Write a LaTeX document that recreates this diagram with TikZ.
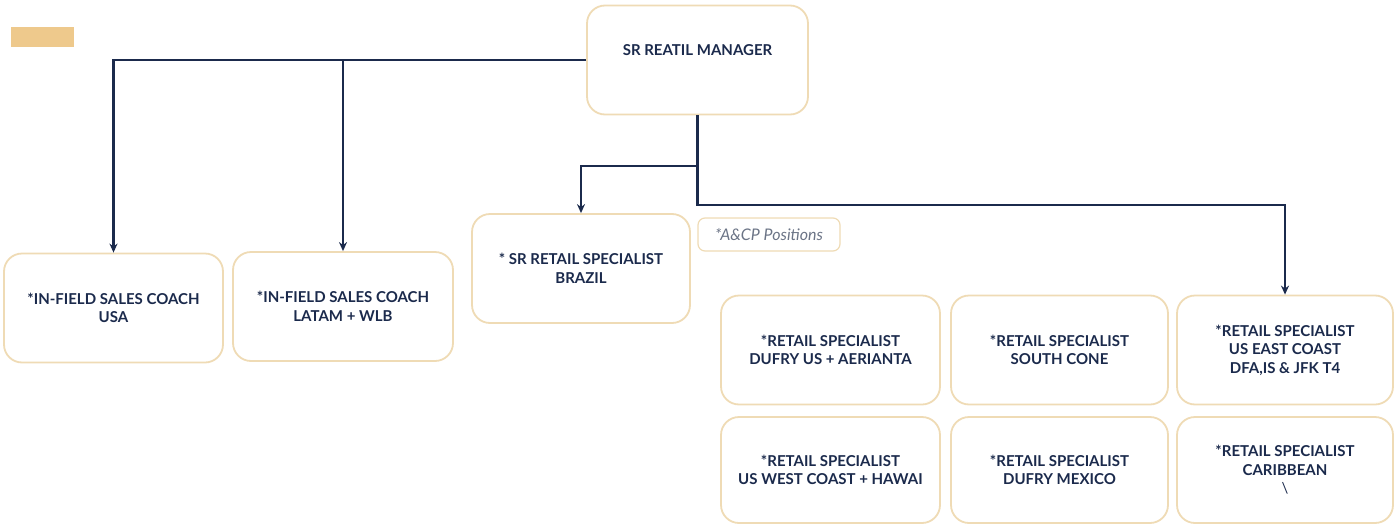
\documentclass[tikz,border=0pt]{standalone}
\usepackage{fontspec}
\setmainfont{Lato}
\usetikzlibrary{arrows.meta}
\definecolor{navy}{HTML}{1B2A4C}
\definecolor{sand}{HTML}{EFDBB5}
\definecolor{tan}{HTML}{EEC98C}
\definecolor{note}{HTML}{6B7486}
\begin{document}
\begin{tikzpicture}[x=1pt,y=-1pt,
  every node/.style={draw=sand,line width=1.8pt,rounded corners=18pt,fill=white,
    text=navy,font=\bfseries\fontsize{15}{18.5}\selectfont,align=center,inner sep=0pt},
  role/.style={minimum width=218pt,minimum height=109pt},
  link/.style={draw=navy,line width=2.2pt,-{Stealth[length=9pt,width=8pt]}}]
\useasboundingbox (0,0) rectangle (1395,525);
\node[draw=none,fill=tan,rounded corners=0pt,minimum width=63pt,minimum height=20pt] (legend) at (42.5,37) {};
\node[role,minimum width=221pt,text depth=20pt] (mgr) at (697.5,60) {SR REATIL MANAGER};
\node[role,minimum width=219pt] (usa) at (113.5,308) {*IN-FIELD SALES COACH\\USA};
\node[role,minimum width=220pt] (latam) at (343,306.5) {*IN-FIELD SALES COACH\\LATAM + WLB};
\node[role] (brazil) at (581,268.5) {* SR RETAIL SPECIALIST\\BRAZIL};
\node[rounded corners=7pt,minimum width=142pt,minimum height=33pt,line width=1.2pt,
  text=note,font=\itshape\fontsize{16}{18}\selectfont] (acp) at (769,234.5) {*A\&CP Positions};
\node[role,minimum width=219pt] (dufry) at (830.5,350) {*RETAIL SPECIALIST\\DUFRY US + AERIANTA};
\node[role,minimum width=217pt] (south) at (1059.5,350) {*RETAIL SPECIALIST\\SOUTH CONE};
\node[role,minimum width=216pt] (east) at (1285,350) {*RETAIL SPECIALIST\\US EAST COAST\\DFA,IS \& JFK T4};
\node[role,minimum width=219pt,minimum height=106pt] (west) at (830.5,470) {*RETAIL SPECIALIST\\US WEST COAST + HAWAI};
\node[role,minimum width=217pt,minimum height=106pt] (mexico) at (1059.5,470) {*RETAIL SPECIALIST\\DUFRY MEXICO};
\node[role,minimum width=216pt,minimum height=106pt] (carib) at (1285,470) {*RETAIL SPECIALIST\\CARIBBEAN\\{\mdseries\textbackslash}};
\coordinate (split1) at (697.5,166);
\coordinate (split2) at (697.5,205);
\draw[link] (mgr.west) -| (usa.north);
\draw[link] (mgr.west -| latam.north) -- (latam.north);
\draw[link] (mgr.south) -- (split1) -| (brazil.north);
\draw[link] (split1) -- (split2) -| (east.north);
\end{tikzpicture}
\end{document}
